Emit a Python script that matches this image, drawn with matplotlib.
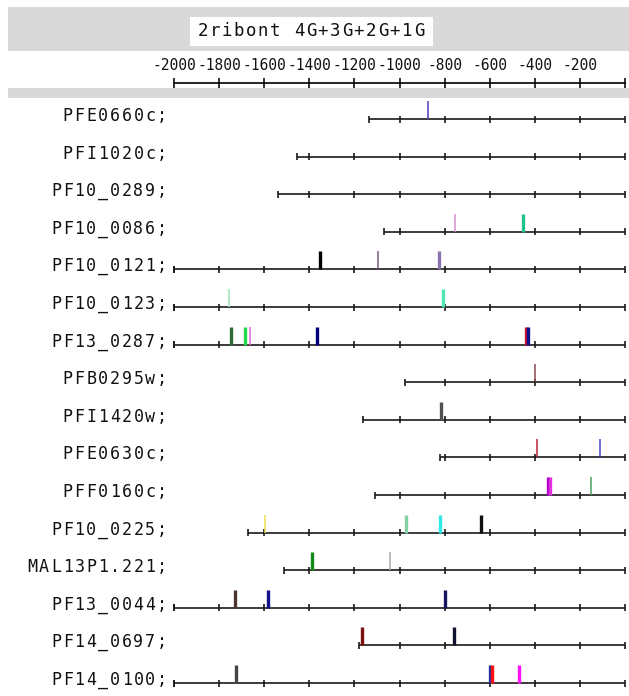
import matplotlib
matplotlib.use('Agg')
import matplotlib.pyplot as plt
from matplotlib.patches import Rectangle

# ---------------- data ----------------
title = "2ribont 4G+3G+2G+1G"
genes = ["PFE0660c;", "PFI1020c;", "PF10_0289;", "PF10_0086;", "PF10_0121;",
         "PF10_0123;", "PF13_0287;", "PFB0295w;", "PFI1420w;", "PFE0630c;",
         "PFF0160c;", "PF10_0225;", "MAL13P1.221;", "PF13_0044;", "PF14_0697;",
         "PF14_0100;"]
starts = [-1135, -1455, -1538, -1069, -2000, -2000, -2000, -975, -1162, -820,
          -1108, -1672, -1512, -2000, -1180, -2000]

mark_row = [0,
            3, 3,
            4, 4, 4,
            5, 5,
            6, 6, 6, 6, 6, 6,
            7,
            8,
            9, 9,
            10, 10, 10,
            11, 11, 11, 11,
            12, 12,
            13, 13, 13,
            14, 14,
            15, 15, 15, 15]
mark_pos = [-874,
            -754, -452,
            -1352, -1095, -826,
            -1756, -807,
            -1747, -1685, -1663, -1366, -437, -431,
            -400,
            -816,
            -391, -111,
            -340, -334, -151,
            -1596, -971, -822, -639,
            -1388, -1042,
            -1729, -1583, -798,
            -1166, -758,
            -1725, -597, -591, -470]
mark_color = ["#4b3fc4",
              "#d68fd0", "#1ec48a",
              "#000000", "#7a5a7a", "#8a72b0",
              "#9fe3b8", "#4fe6b0",
              "#2f6b35", "#22d84a", "#e26ae0", "#00007a", "#c01030", "#10108a",
              "#8a4a50",
              "#505050",
              "#c0203a", "#4a48d0",
              "#b000c8", "#e030e0", "#4aa060",
              "#e8e050", "#86d0a8", "#2ee8e8", "#101010",
              "#128a1a", "#a8a8a8",
              "#4a3434", "#10108a", "#151560",
              "#7a1010", "#101030",
              "#454545", "#2030a0", "#ff1010", "#ff10ff"]
mark_thick = [0,
              0, 1,
              1, 0, 1,
              0, 1,
              1, 1, 0, 1, 1, 1,
              0,
              1,
              0, 0,
              1, 1, 0,
              0, 1, 1, 1,
              1, 0,
              1, 1, 1,
              1, 1,
              1, 1, 1, 1]
scale_ticks = list(range(-2000, 1, 200))
scale_labels = [str(v) for v in scale_ticks[:-1]] + [""]

# ---------------- layout ----------------
W, H = 629, 696
DPI = 100
fig = plt.figure(figsize=(W / DPI, H / DPI), dpi=DPI, facecolor="white")
MONO = "DejaVu Sans Mono"


def fx(x):
    return x / W


def fy(y):
    return 1 - y / H


def band(x0, y0, x1, y1, color):
    fig.patches.append(Rectangle((fx(x0), fy(y1)), fx(x1) - fx(x0), fy(y0) - fy(y1),
                                 transform=fig.transFigure, facecolor=color,
                                 edgecolor="none", zorder=0))


GRAY = "#d9d9d9"
band(8, 7, W, 51, GRAY)
band(8, 88, W, 98, GRAY)
band(190, 17, 433, 46, "white")


def spaced_text(s, x_right, y, adv, size, ha_right=True):
    n = len(s)
    if ha_right:
        x0 = x_right - n * adv
    else:
        x0 = x_right
    for k, ch in enumerate(s):
        fig.text(fx(x0 + (k + 0.5) * adv), fy(y), ch, ha="center", va="center",
                 fontsize=size, family=MONO, color="#111111")


# title
tadv = 12.0
spaced_text(title, 311 - len(title) * tadv / 2, 31, tadv, 12.5, ha_right=False)

# row labels
ROW0, ROWSTEP = 119, 37.6
for i, g in enumerate(genes):
    spaced_text(g, 168, ROW0 + i * ROWSTEP - 3, 11.8, 12)

# ---------------- scale axis ----------------
X0, X1 = 174, 625
axs = fig.add_axes([fx(X0), fy(83), fx(X1) - fx(X0), 0.5 / H])
axs.set_xlim(-2000, 0)
axs.set_ylim(0, 1)
for side in ["left", "right", "bottom"]:
    axs.spines[side].set_visible(False)
axs.spines["top"].set_linewidth(1.2)
axs.set_yticks([])
axs.set_xticks(scale_ticks)
axs.set_xticklabels(scale_labels, family=MONO, fontsize=10.5)
axs.tick_params(axis="x", top=True, bottom=False, labeltop=True, labelbottom=False,
                direction="inout", length=7, width=1.2, pad=3, colors="#111111")
axs.patch.set_alpha(0)

# ---------------- rows ----------------
ax = fig.add_axes([fx(X0), 0, fx(X1) - fx(X0), fy(100)])
ax.set_xlim(-2000, 0)
ax.set_ylim((H - ROW0) / ROWSTEP, (100 - ROW0) / ROWSTEP)
ax.axis("off")

rows = list(range(len(genes)))
ax.hlines(rows, starts, 0, color="#1a1a1a", linewidth=1.2, clip_on=False, zorder=2)

tick_x, tick_y = [], []
for r, s in zip(rows, starts):
    tick_x.append(s)
    tick_y.append(r)
    for t in scale_ticks:
        if t >= s:
            tick_x.append(t)
            tick_y.append(r)
th = 3.5 / ROWSTEP
ax.vlines(tick_x, [y - th for y in tick_y], [y + th for y in tick_y],
          color="#1a1a1a", linewidth=1.2, clip_on=False, zorder=2)

mh = 18 / ROWSTEP
for r, p, c, k in zip(mark_row, mark_pos, mark_color, mark_thick):
    ax.vlines(p, r - mh, r, color=c, linewidth=2.4 if k else 1.1,
              clip_on=False, zorder=3)

fig.savefig("out.png", dpi=DPI, facecolor="white")
